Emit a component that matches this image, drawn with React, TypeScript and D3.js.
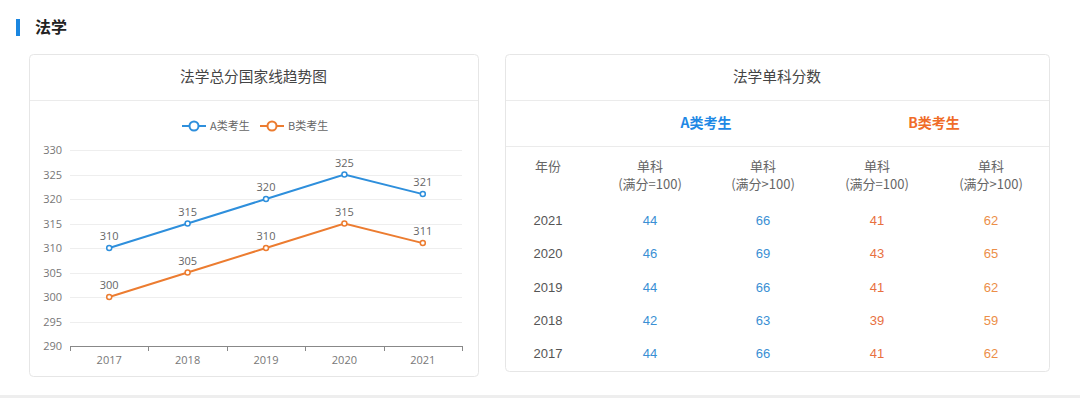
import React, { useEffect, useRef } from 'react';
import * as d3 from 'd3';

const years = ['2017', '2018', '2019', '2020', '2021'];
const scoreA = [310, 315, 320, 325, 321];
const scoreB = [300, 305, 310, 315, 311];
const yTicks = [290, 295, 300, 305, 310, 315, 320, 325, 330];

const tableYears = ['2021', '2020', '2019', '2018', '2017'];
const singleA100 = [44, 46, 44, 42, 44];
const singleAOver = [66, 69, 66, 63, 66];
const singleB100 = [41, 43, 41, 39, 41];
const singleBOver = [62, 65, 62, 59, 62];

const BLUE = '#2e8fdc';
const ORANGE = '#ec7c30';
const CJK = '"Noto Sans CJK SC", "Noto Sans", sans-serif';

export default function App() {
  const svgRef = useRef<SVGSVGElement>(null);

  useEffect(() => {
    if (!svgRef.current) return;
    const svg = d3.select(svgRef.current);
    svg.selectAll('*').remove();

    svg.append('rect').attr('width', 1080).attr('height', 398).attr('fill', '#fff');
    svg.append('rect').attr('x', 0).attr('y', 395).attr('width', 1080).attr('height', 3).attr('fill', '#eeeeee');

    // section header
    svg.append('rect').attr('x', 16).attr('y', 19).attr('width', 4).attr('height', 17).attr('fill', '#1a86e0');
    svg.append('text').attr('x', 35).attr('y', 33).text('法学')
      .attr('font-family', CJK).attr('font-size', 16).attr('font-weight', 700).attr('fill', '#222');

    // panels
    const panel = (x: number, y: number, w: number, h: number, title: string) => {
      svg.append('rect').attr('x', x + 0.5).attr('y', y + 0.5).attr('width', w).attr('height', h)
        .attr('rx', 4).attr('fill', '#fff').attr('stroke', '#e6e6e6');
      svg.append('line').attr('x1', x + 1).attr('x2', x + w).attr('y1', 100.5).attr('y2', 100.5).attr('stroke', '#ebebeb');
      svg.append('text').attr('x', x + w / 2).attr('y', 82).attr('text-anchor', 'middle').text(title)
        .attr('font-family', CJK).attr('font-size', 14.7).attr('fill', '#444');
    };
    panel(29, 54, 449, 322, '法学总分国家线趋势图');
    panel(505, 54, 544, 317, '法学单科分数');

    // ---- line chart ----
    const x = d3.scaleBand().domain(years).range([70, 462]);
    const y = d3.scaleLinear().domain([290, 330]).range([346, 150]);
    const g = svg.append('g');

    yTicks.forEach(t => {
      if (t !== 290) {
        g.append('line').attr('x1', 70).attr('x2', 462).attr('y1', Math.round(y(t)) + 0.5).attr('y2', Math.round(y(t)) + 0.5)
          .attr('stroke', '#eeeeee');
      }
      g.append('text').attr('x', 62).attr('y', y(t) + 4).attr('text-anchor', 'end').text(t)
        .attr('font-family', '"Open Sans", sans-serif').attr('font-size', 11).attr('fill', '#777');
    });

    const xAxis = g.append('g').attr('transform', 'translate(0,346)')
      .call(d3.axisBottom(x).tickSize(0).tickPadding(10));
    xAxis.select('.domain').attr('stroke', '#888');
    xAxis.selectAll('text').attr('font-family', '"Open Sans", sans-serif').attr('font-size', 11).attr('fill', '#777');
    const bounds = [70, ...years.map(d => (x(d) as number) + x.bandwidth())];
    bounds.forEach(b => {
      g.append('line').attr('x1', Math.round(b) + 0.5).attr('x2', Math.round(b) + 0.5).attr('y1', 346).attr('y2', 351).attr('stroke', '#888');
    });

    const cx = (d: string) => (x(d) as number) + x.bandwidth() / 2;
    const series = [
      { vals: scoreA, color: BLUE },
      { vals: scoreB, color: ORANGE },
    ];
    series.forEach(s => {
      const line = d3.line<number>().x((_, i) => cx(years[i])).y(v => y(v));
      g.append('path').attr('d', line(s.vals)).attr('fill', 'none').attr('stroke', s.color).attr('stroke-width', 2);
      s.vals.forEach((v, i) => {
        g.append('circle').attr('cx', cx(years[i])).attr('cy', y(v)).attr('r', 2.5)
          .attr('fill', '#fff').attr('stroke', s.color).attr('stroke-width', 1.5);
        g.append('text').attr('x', cx(years[i])).attr('y', y(v) - 8).attr('text-anchor', 'middle').text(v)
          .attr('font-family', '"Open Sans", sans-serif').attr('font-size', 11).attr('fill', '#666');
      });
    });

    // legend
    const legend = [
      { label: 'A类考生', color: BLUE, x: 182 },
      { label: 'B类考生', color: ORANGE, x: 260 },
    ];
    legend.forEach(l => {
      g.append('line').attr('x1', l.x).attr('x2', l.x + 24).attr('y1', 126).attr('y2', 126).attr('stroke', l.color).attr('stroke-width', 2);
      g.append('circle').attr('cx', l.x + 12).attr('cy', 126).attr('r', 4.5).attr('fill', '#fff').attr('stroke', l.color).attr('stroke-width', 2);
      g.append('text').attr('x', l.x + 28).attr('y', 130).text(l.label)
        .attr('font-family', CJK).attr('font-size', 11).attr('fill', '#666');
    });

    // ---- table ----
    const t = svg.append('g');
    t.append('text').attr('x', 706).attr('y', 128).attr('text-anchor', 'middle').text('A类考生')
      .attr('font-family', CJK).attr('font-size', 14).attr('font-weight', 700).attr('fill', '#1e88e5');
    t.append('text').attr('x', 934).attr('y', 128).attr('text-anchor', 'middle').text('B类考生')
      .attr('font-family', CJK).attr('font-size', 14).attr('font-weight', 700).attr('fill', '#f06c28');
    t.append('line').attr('x1', 506).attr('x2', 1049).attr('y1', 146.5).attr('y2', 146.5).attr('stroke', '#ebebeb');

    const colX = [548, 650, 763, 877, 991];
    const headFont = (sel: any) => sel.attr('font-family', CJK).attr('font-size', 13).attr('fill', '#666').attr('text-anchor', 'middle');
    headFont(t.append('text').attr('x', colX[0]).attr('y', 171).text('年份'));
    const subs = ['(满分=100)', '(满分>100)', '(满分=100)', '(满分>100)'];
    subs.forEach((s, i) => {
      headFont(t.append('text').attr('x', colX[i + 1]).attr('y', 171).text('单科'));
      headFont(t.append('text').attr('x', colX[i + 1]).attr('y', 189).text(s));
    });

    const rowY = d3.scalePoint().domain(tableYears).range([220, 353]);
    const cols = [
      { vals: singleA100, color: '#3a8fd4' },
      { vals: singleAOver, color: '#3a8fd4' },
      { vals: singleB100, color: '#e8703f' },
      { vals: singleBOver, color: '#ec8e48' },
    ];
    const numFont = '"Liberation Sans", Arial, sans-serif';
    tableYears.forEach((yr, r) => {
      const ry = (rowY(yr) as number) + 5;
      t.append('text').attr('x', colX[0]).attr('y', ry).attr('text-anchor', 'middle').text(yr)
        .attr('font-family', numFont).attr('font-size', 13).attr('fill', '#555');
      cols.forEach((c, i) => {
        t.append('text').attr('x', colX[i + 1]).attr('y', ry).attr('text-anchor', 'middle').text(c.vals[r])
          .attr('font-family', numFont).attr('font-size', 13).attr('fill', c.color);
      });
    });
  }, []);

  return (
    <svg ref={svgRef} width={1080} height={398}
      style={{ position: 'absolute', left: 0, top: 0, display: 'block' }} />
  );
}
